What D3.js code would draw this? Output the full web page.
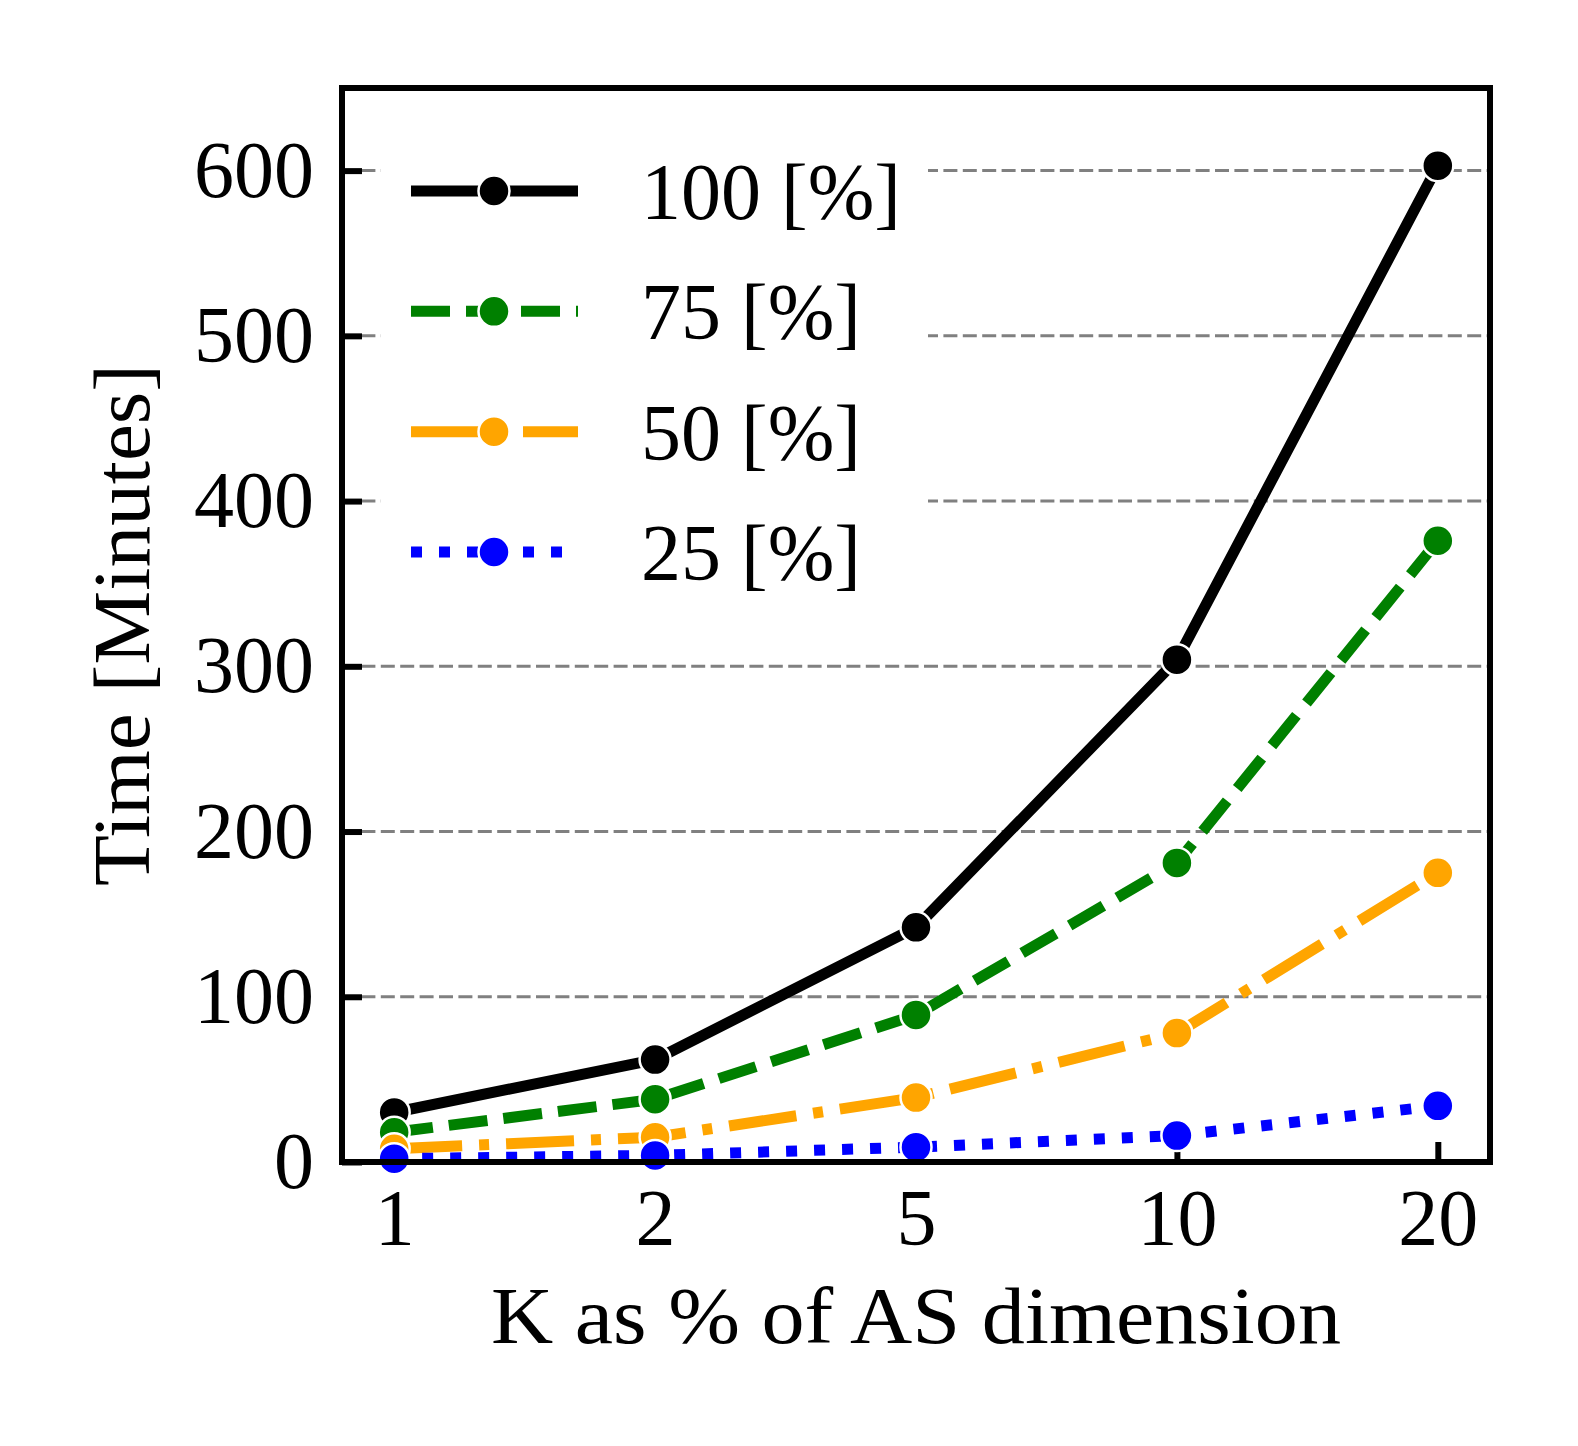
<!DOCTYPE html>
<html>
<head>
<meta charset="utf-8">
<script src="https://cdn.jsdelivr.net/npm/d3@7"></script>
<style>
  html, body { margin: 0; padding: 0; background: #fff; }
  svg text { font-family: "Liberation Serif", serif; fill: #000; }
</style>
</head>
<body>
<script>
// K as % of AS dimension (categorical x axis)
const kValues = ["1", "2", "5", "10", "20"];

// time in minutes, one array per share of the data
const time100 = [30, 62, 142, 304, 603];
const time75 = [18, 38, 89, 181, 376];
const time50 = [8, 15, 39, 78, 175];
const time25 = [2, 4, 9, 16, 34];

const seriesNames = ["100 [%]", "75 [%]", "50 [%]", "25 [%]"];
const yTicks = [0, 100, 200, 300, 400, 500, 600];

const xTitle = "K as % of AS dimension";
const yTitle = "Time [Minutes]";

const series = [
  { name: seriesNames[0], values: time100, color: "#000000", dash: null },
  { name: seriesNames[1], values: time75, color: "#008000", dash: "39,16" },
  { name: seriesNames[2], values: time50, color: "#ffa500", dash: "68,17,10,17" },
  { name: seriesNames[3], values: time25, color: "#0000ff", dash: "11,17" },
];

const W = 1578, H = 1446;
const box = { left: 342, right: 1490, top: 88, bottom: 1162 };
const fontSize = 80;
const lw = 11;
const markR = 15.5;

const svg = d3
  .select("body")
  .append("svg")
  .attr("width", W)
  .attr("height", H);

const x = d3
  .scalePoint()
  .domain(kValues)
  .range([box.left, box.right])
  .padding(0.2);

const y = d3
  .scaleLinear()
  .domain([0, 650])
  .range([box.bottom, box.top]);

// horizontal dashed grid
svg
  .append("g")
  .selectAll("line")
  .data(yTicks.filter((d) => d > 0))
  .join("line")
  .attr("x1", box.left)
  .attr("x2", box.right)
  .attr("y1", (d) => y(d))
  .attr("y2", (d) => y(d))
  .attr("stroke", "#808080")
  .attr("stroke-width", 3)
  .attr("stroke-dasharray", "14,5.4");

// axes, ticks pointing inward
const yAxis = svg
  .append("g")
  .attr("transform", "translate(" + box.left + ",0)")
  .call(d3.axisLeft(y).tickValues(yTicks).tickSize(-20).tickPadding(28));

const xAxis = svg
  .append("g")
  .attr("transform", "translate(0," + box.bottom + ")")
  .call(d3.axisBottom(x).tickSize(-20).tickPadding(26));

[xAxis, yAxis].forEach((a) => {
  a.select(".domain").remove();
  a.selectAll(".tick line").attr("stroke", "#000").attr("stroke-width", 6);
  a.selectAll(".tick text")
    .style("font-family", '"Liberation Serif", serif')
    .style("font-size", fontSize + "px")
    .attr("fill", "#000");
});

// data lines
const line = d3
  .line()
  .x((d, i) => x(kValues[i]))
  .y((d) => y(d));

series.forEach((s) => {
  svg
    .append("path")
    .datum(s.values)
    .attr("fill", "none")
    .attr("stroke", s.color)
    .attr("stroke-width", lw)
    .attr("stroke-linejoin", "round")
    .attr("stroke-linecap", s.dash ? "butt" : "square")
    .attr("stroke-dasharray", s.dash)
    .attr("d", line);

  svg
    .append("g")
    .selectAll("circle")
    .data(s.values)
    .join("circle")
    .attr("cx", (d, i) => x(kValues[i]))
    .attr("cy", (d) => y(d))
    .attr("r", markR)
    .attr("fill", s.color)
    .attr("stroke", "#fff")
    .attr("stroke-width", 2.5);
});

// frame
svg
  .append("rect")
  .attr("x", box.left)
  .attr("y", box.top)
  .attr("width", box.right - box.left)
  .attr("height", box.bottom - box.top)
  .attr("fill", "none")
  .attr("stroke", "#000")
  .attr("stroke-width", 6);

// legend
const legend = svg.append("g");
legend
  .append("rect")
  .attr("x", 381)
  .attr("y", 129)
  .attr("width", 547)
  .attr("height", 476)
  .attr("fill", "#fff");

const rowY = d3.scaleLinear().domain([0, 3]).range([191, 552]);

series.forEach((s, i) => {
  const g = legend.append("g").attr("transform", "translate(0," + rowY(i) + ")");
  g.append("line")
    .attr("x1", 411)
    .attr("x2", 578)
    .attr("stroke", s.color)
    .attr("stroke-width", lw)
    .attr("stroke-linecap", "butt")
    .attr("stroke-dasharray", s.dash);
  g.append("circle")
    .attr("cx", 494)
    .attr("r", markR)
    .attr("fill", s.color)
    .attr("stroke", "#fff")
    .attr("stroke-width", 2.5);
  g.append("text")
    .attr("x", 641)
    .attr("y", 28)
    .style("font-size", fontSize + "px")
    .text(s.name);
});

// axis titles
svg
  .append("text")
  .attr("x", (box.left + box.right) / 2)
  .attr("y", 1343)
  .attr("text-anchor", "middle")
  .attr("textLength", 850)
  .attr("lengthAdjust", "spacingAndGlyphs")
  .style("font-size", fontSize + "px")
  .text(xTitle);

svg
  .append("text")
  .attr("transform", "translate(149," + (box.top + box.bottom) / 2 + ") rotate(-90)")
  .attr("text-anchor", "middle")
  .attr("textLength", 522)
  .attr("lengthAdjust", "spacingAndGlyphs")
  .style("font-size", fontSize + "px")
  .text(yTitle);
</script>
</body>
</html>
